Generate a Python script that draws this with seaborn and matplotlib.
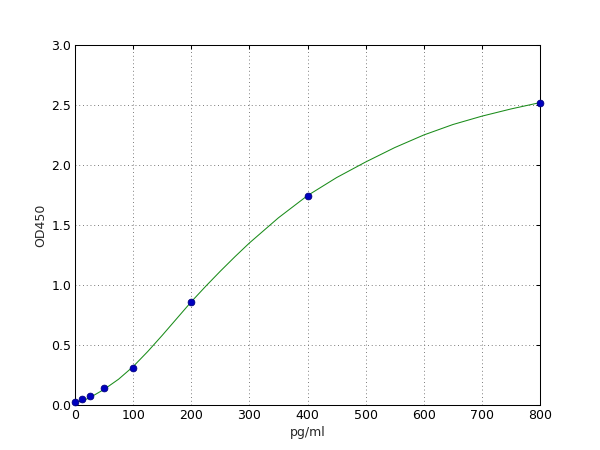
import numpy as np
import pandas as pd
import matplotlib
matplotlib.use("Agg")
import matplotlib.pyplot as plt
import seaborn as sns

# Standard points
conc = [0, 12.5, 25, 50, 100, 200, 400, 800]
od = [0.025, 0.05, 0.075, 0.145, 0.31, 0.86, 1.745, 2.52]

# Fitted curve
curve_x = [0, 12.5, 25, 50, 75, 100, 125, 150, 175, 200, 225, 250, 275, 300,
           350, 400, 450, 500, 550, 600, 650, 700, 750, 800]
curve_y = [0.02, 0.035, 0.06, 0.13, 0.215, 0.32, 0.445, 0.58, 0.72, 0.86,
           0.99, 1.115, 1.235, 1.35, 1.56, 1.745, 1.895, 2.025, 2.145, 2.25,
           2.337, 2.407, 2.467, 2.52]

x_ticks = [0, 100, 200, 300, 400, 500, 600, 700, 800]
y_ticks = [0.0, 0.5, 1.0, 1.5, 2.0, 2.5, 3.0]

sns.set_style("white")
plt.rcParams.update({
    "font.family": ["DejaVu Sans"],
    "xtick.direction": "in",
    "ytick.direction": "in",
    "xtick.major.size": 4,
    "ytick.major.size": 4,
    "axes.edgecolor": "black",
    "axes.linewidth": 1.0,
})

fig = plt.figure(figsize=(8, 6), dpi=75)
ax = fig.add_axes([0.125, 0.1, 0.775, 0.8])

df_curve = pd.DataFrame({"x": curve_x, "y": curve_y})
df_pts = pd.DataFrame({"x": conc, "y": od})

sns.lineplot(data=df_curve, x="x", y="y", ax=ax, color="#1a8c1a", linewidth=1.0)
sns.scatterplot(data=df_pts, x="x", y="y", ax=ax, color="#0000bf", s=42,
                edgecolor="#000080", linewidth=0.8, zorder=5, clip_on=False)

ax.set_xlim(0, 800)
ax.set_ylim(0, 3.0)
ax.set_xticks(x_ticks)
ax.set_yticks(y_ticks)
ax.set_xticklabels([str(v) for v in x_ticks])
ax.set_yticklabels([f"{v:.1f}" for v in y_ticks])
ax.tick_params(labelsize=12, top=True, right=True, direction="in", length=4,
               width=1, colors="black")
ax.grid(True, linestyle=(0, (1, 3)), color="0.45", linewidth=0.9)
ax.set_xlabel("pg/ml", fontsize=12)
ax.set_ylabel("OD450", fontsize=12)
for s in ax.spines.values():
    s.set_visible(True)
    s.set_color("black")

fig.savefig("out.png", dpi=75, facecolor="white")
